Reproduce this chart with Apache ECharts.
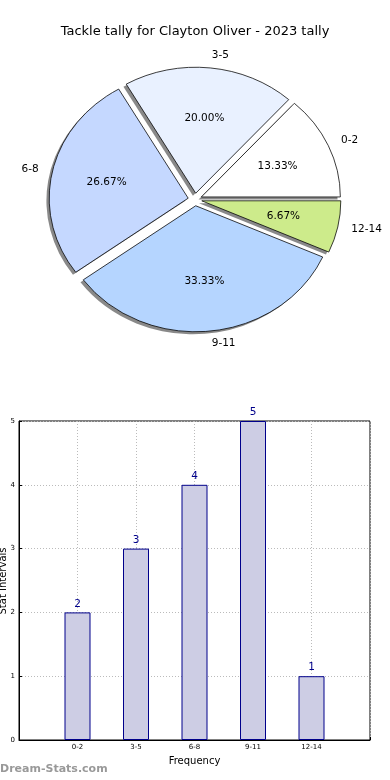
<!DOCTYPE html>
<html>
<head>
<meta charset="utf-8">
<script src="https://cdn.jsdelivr.net/npm/echarts@6/dist/echarts.min.js"></script>
<style>html,body{margin:0;padding:0;background:#fff}#c{width:390px;height:780px}</style>
</head>
<body>
<div id="c"></div>
<script>
const categories = ['0-2', '3-5', '6-8', '9-11', '12-14'];
const counts = [2, 3, 4, 5, 1];
const sliceColors = ['#ffffff', '#e9f1ff', '#c5d8ff', '#b5d5ff', '#cdeb8b'];
const yTicks = [0, 1, 2, 3, 4, 5];

const FONT = 'DejaVu Sans';
const total = counts.reduce((a, b) => a + b, 0);
const pie = { cx: 195, cy: 199.5, rx: 139, ry: 126, explode: 0.05 };

function angles(i) {
  let s = 0;
  for (let j = 0; j < i; j++) s += counts[j];
  const a1 = s / total * Math.PI * 2;
  const a2 = (s + counts[i]) / total * Math.PI * 2;
  return { a1, a2, mid: (a1 + a2) / 2 };
}

function wedge(params, api, shadow) {
  const i = params.dataIndex;
  const { a1, a2, mid } = angles(i);
  const dx = pie.explode * pie.rx * Math.cos(mid);
  const dy = -pie.explode * pie.ry * Math.sin(mid);
  const ox = shadow ? -0.02 * pie.rx : 0;
  const oy = shadow ? 0.02 * pie.ry : 0;
  const children = [{
    type: 'sector',
    scaleY: pie.ry / pie.rx,
    shape: { cx: 0, cy: 0, r0: 0, r: pie.rx, startAngle: -a2, endAngle: -a1, clockwise: true },
    style: shadow ? { fill: 'rgba(40,40,40,0.55)' } : { fill: sliceColors[i], stroke: '#000', lineWidth: 0.8 }
  }];
  if (!shadow) {
    const pct = (counts[i] / total * 100).toFixed(2) + '%';
    children.push({
      type: 'text',
      x: 0.6 * pie.rx * Math.cos(mid), y: -0.6 * pie.ry * Math.sin(mid),
      style: { text: pct, fill: '#000', fontSize: 10.5, fontFamily: FONT, align: 'center', verticalAlign: 'middle' }
    });
    const c = Math.cos(mid);
    children.push({
      type: 'text',
      x: 1.1 * pie.rx * c, y: -1.1 * pie.ry * Math.sin(mid),
      style: { text: categories[i], fill: '#000', fontSize: 10.5, fontFamily: FONT, align: c > 0 ? 'left' : 'right', verticalAlign: 'middle' }
    });
  }
  return { type: 'group', x: pie.cx + dx + ox, y: pie.cy + dy + oy, children };
}

const axisCats = [''].concat(categories, ['']);
const barData = [null].concat(counts, [null]);

const chart = echarts.init(document.getElementById('c'), null, { renderer: 'canvas' });
chart.setOption({
  animation: false,
  backgroundColor: '#fff',
  title: {
    text: 'Tackle tally for Clayton Oliver - 2023 tally',
    left: 'center', top: 20,
    textStyle: { fontFamily: FONT, fontSize: 13, fontWeight: 'normal', color: '#000' }
  },
  graphic: [{
    type: 'text', left: 0, top: 764,
    style: { text: 'Dream-Stats.com', fill: '#999', fontFamily: FONT, fontSize: 11, fontWeight: 'bold' }
  }, {
    type: 'text', x: 3, y: 581, rotation: Math.PI / 2,
    style: { text: 'Stat Intervals', fill: '#000', fontFamily: FONT, fontSize: 10, align: 'center', verticalAlign: 'middle' }
  }],
  grid: {
    left: 19, right: 20, top: 421, bottom: 40,
    containLabel: false, outerBoundsMode: 'none',
    show: true, borderColor: '#000', borderWidth: 1, backgroundColor: 'transparent'
  },
  xAxis: {
    type: 'category', data: axisCats, boundaryGap: false,
    name: 'Frequency', nameLocation: 'middle', nameGap: 16,
    nameTextStyle: { fontFamily: FONT, fontSize: 10, color: '#000' },
    axisLine: { lineStyle: { color: '#000', width: 1 } },
    axisTick: { inside: true, length: 3, interval: 0, lineStyle: { color: '#000' } },
    axisLabel: { interval: 0, fontFamily: FONT, fontSize: 7, color: '#000', margin: 4 },
    splitLine: { show: true, interval: 0, lineStyle: { color: '#bbb', type: [1, 2], width: 1 } }
  },
  yAxis: {
    type: 'value', min: 0, max: 5, interval: 1,
    axisLine: { show: true, lineStyle: { color: '#000', width: 1 } },
    axisTick: { show: true, inside: true, length: 3, lineStyle: { color: '#000' } },
    axisLabel: { fontFamily: FONT, fontSize: 7, color: '#000', margin: 4, formatter: v => yTicks.includes(v) ? String(v) : '' },
    splitLine: { show: true, lineStyle: { color: '#bbb', type: [1, 2], width: 1 } }
  },
  series: [
    {
      type: 'custom', coordinateSystem: 'none', silent: true, z: 1,
      data: counts, renderItem: (p, a) => wedge(p, a, true)
    },
    {
      type: 'custom', coordinateSystem: 'none', silent: true, z: 2,
      data: counts, renderItem: (p, a) => wedge(p, a, false)
    },
    {
      type: 'bar', data: barData, barWidth: 26, silent: true,
      itemStyle: { color: '#cdcde4', borderColor: '#00008b', borderWidth: 1 },
      label: { show: true, position: 'top', distance: 3, color: '#00008b', fontFamily: FONT, fontSize: 10.5 }
    }
  ]
});
</script>
</body>
</html>
